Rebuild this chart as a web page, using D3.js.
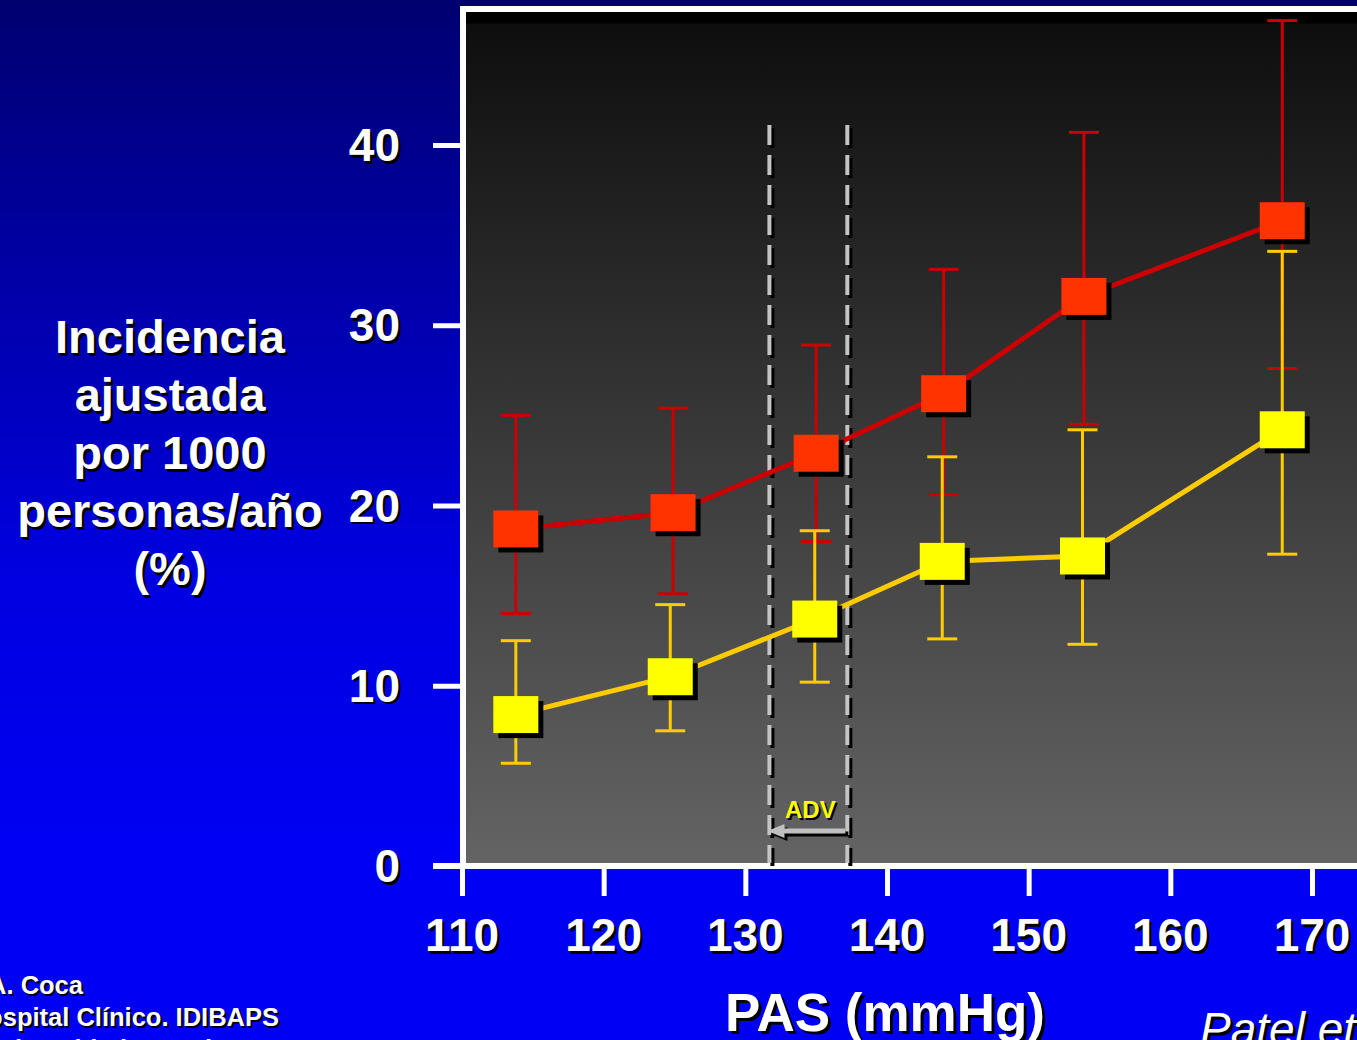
<!DOCTYPE html>
<html>
<head>
<meta charset="utf-8">
<script src="https://cdn.jsdelivr.net/npm/d3@7"></script>
<style>
  html, body { margin: 0; padding: 0; overflow: hidden; background: #0000c0; }
  svg { display: block; }
  text { font-family: "Liberation Sans", Arial, sans-serif; }
</style>
</head>
<body>
<svg id="chart" width="1357" height="1040"></svg>
<script>
// ---------- DATA ----------
const xTicks = [110, 120, 130, 140, 150, 160, 170];
const yTicks = [0, 10, 20, 30, 40];
const redX = [113.8, 124.9, 135.0, 144.0, 153.9, 167.9];
const redY = [18.7, 19.6, 22.9, 26.2, 31.6, 35.8];
const redHi = [25.0, 25.4, 28.9, 33.1, 40.7, 46.9];
const redLo = [14.0, 15.1, 18.0, 20.6, 24.5, 27.6];
const yelX = [113.8, 124.7, 134.9, 143.9, 153.8, 167.9];
const yelY = [8.4, 10.5, 13.7, 16.9, 17.2, 24.2];
const yelHi = [12.5, 14.5, 18.6, 22.7, 24.2, 34.1];
const yelLo = [5.7, 7.5, 10.2, 12.6, 12.3, 17.3];
const advRange = [131.7, 137.2];
const yLabelLines = ["Incidencia", "ajustada", "por 1000", "personas/año", "(%)"];
const xLabel = "PAS (mmHg)";
const advLabel = "ADV";
const footerLines = ["A. Coca", "Hospital Clínico. IDIBAPS", "Universidad Barcelona"];
const citation = "Patel et al";

// ---------- SETUP ----------
const svg = d3.select("#chart");
const W = 1357, H = 1040;
const x = d3.scaleLinear().domain([110, 170]).range([462, 1312]);
const y = d3.scaleLinear().domain([0, 40]).range([866, 145]);

const defs = svg.append("defs");
const bg = defs.append("linearGradient").attr("id", "bg").attr("x1", 0).attr("y1", 0).attr("x2", 0).attr("y2", 1);
bg.append("stop").attr("offset", 0).attr("stop-color", "#000070");
bg.append("stop").attr("offset", 0.55).attr("stop-color", "#0000e0");
bg.append("stop").attr("offset", 0.8).attr("stop-color", "#0000f2");
bg.append("stop").attr("offset", 1).attr("stop-color", "#0000f4");

const pg = defs.append("linearGradient").attr("id", "pg").attr("x1", 0).attr("y1", 0).attr("x2", 0).attr("y2", 1);
pg.append("stop").attr("offset", 0).attr("stop-color", "#000000");
pg.append("stop").attr("offset", 0.013).attr("stop-color", "#000000");
pg.append("stop").attr("offset", 0.014).attr("stop-color", "#0e0e0e");
pg.append("stop").attr("offset", 1).attr("stop-color", "#646464");

svg.append("rect").attr("width", W).attr("height", H).attr("fill", "url(#bg)");

// plot frame
svg.append("rect").attr("x", 460).attr("y", 6).attr("width", W - 460 + 10).attr("height", 866 - 6)
  .attr("fill", "#ffffff");
svg.append("rect").attr("x", 466).attr("y", 12).attr("width", W - 466 + 10).attr("height", 863 - 12)
  .attr("fill", "url(#pg)");

function shadowText(g, txt, tx, ty, opts) {
  const o = Object.assign({ size: 40, weight: "bold", anchor: "middle", fill: "#fff", dx: 2.5, dy: 2.5, style: "normal" }, opts || {});
  [[o.dx, o.dy, "#000"], [0, 0, o.fill]].forEach(([ox, oy, c]) => {
    g.append("text").attr("x", tx + ox).attr("y", ty + oy)
      .attr("text-anchor", o.anchor).attr("font-size", o.size).attr("font-weight", o.weight)
      .attr("font-style", o.style).attr("fill", c).text(txt);
  });
}

// ---------- AXES ----------
const axisG = svg.append("g");
// x axis line
axisG.append("line").attr("x1", 433).attr("x2", W).attr("y1", y(0)).attr("y2", y(0))
  .attr("stroke", "#fff").attr("stroke-width", 6);
// x ticks
const xAxis = d3.axisBottom(x).tickValues(xTicks).tickSize(30).tickFormat("");
const xg = svg.append("g").attr("transform", `translate(0,${y(0)})`).call(xAxis);
xg.select(".domain").remove();
xg.selectAll(".tick line").attr("stroke", "#fff").attr("stroke-width", 5);
xTicks.forEach(t => shadowText(svg, String(t), x(t), 951, { size: 46 }));

// y ticks
const yAxis = d3.axisLeft(y).tickValues(yTicks).tickSize(28).tickFormat("");
const yg = svg.append("g").attr("transform", `translate(461,0)`).call(yAxis);
yg.select(".domain").remove();
yg.selectAll(".tick line").attr("stroke", "#fff").attr("stroke-width", 5);
yTicks.forEach(t => shadowText(svg, String(t), 400, y(t) + 16, { size: 46, anchor: "end" }));

// ---------- ADV dashed lines ----------
advRange.forEach(v => {
  svg.append("line").attr("x1", x(v) + 3).attr("x2", x(v) + 3).attr("y1", 128).attr("y2", y(0))
    .attr("stroke", "#000").attr("stroke-width", 4).attr("stroke-dasharray", "20,10");
  svg.append("line").attr("x1", x(v)).attr("x2", x(v)).attr("y1", 125).attr("y2", y(0) - 3)
    .attr("stroke", "#c4c4c4").attr("stroke-width", 4).attr("stroke-dasharray", "20,10");
});
// arrow
const ax0 = x(advRange[1]) - 2, ax1 = x(advRange[0]) - 2, ay = 831;
[[3, 3, "#000"], [0, 0, "#c0c0c0"]].forEach(([ox, oy, c]) => {
  svg.append("line").attr("x1", ax0 + ox).attr("x2", ax1 + 14 + ox).attr("y1", ay + oy).attr("y2", ay + oy)
    .attr("stroke", c).attr("stroke-width", 5);
  svg.append("path").attr("d", `M${ax1 + ox},${ay + oy} L${ax1 + 17 + ox},${ay - 7 + oy} L${ax1 + 17 + ox},${ay + 7 + oy} Z`)
    .attr("fill", c);
});
shadowText(svg, advLabel, (x(advRange[0]) + x(advRange[1])) / 2 + 2, 818, { size: 24, fill: "#ffff00", dx: 2, dy: 2 });

// ---------- SERIES ----------
function drawSeries(xs, ys, lo, hi, lineColor, fill) {
  const pts = xs.map((d, i) => [x(d), y(ys[i])]);
  svg.append("path").attr("d", d3.line()(pts)).attr("fill", "none")
    .attr("stroke", lineColor).attr("stroke-width", 5);
  const cap = 15;
  xs.forEach((d, i) => {
    const cx = x(d);
    svg.append("line").attr("x1", cx).attr("x2", cx).attr("y1", y(hi[i])).attr("y2", y(lo[i]))
      .attr("stroke", lineColor).attr("stroke-width", 3);
    [hi[i], lo[i]].forEach(v => {
      svg.append("line").attr("x1", cx - cap).attr("x2", cx + cap).attr("y1", y(v)).attr("y2", y(v))
        .attr("stroke", lineColor).attr("stroke-width", 3);
    });
  });
  return () => {
    const mw = 45, mh = 37;
    pts.forEach(([px, py]) => {
      svg.append("rect").attr("x", px - mw / 2 + 5).attr("y", py - mh / 2 + 5).attr("width", mw).attr("height", mh).attr("fill", "#000");
      svg.append("rect").attr("x", px - mw / 2).attr("y", py - mh / 2).attr("width", mw).attr("height", mh).attr("fill", fill);
    });
  };
}
const redMarkers = drawSeries(redX, redY, redLo, redHi, "#cc0000", "#ff3300");
const yelMarkers = drawSeries(yelX, yelY, yelLo, yelHi, "#ffcc00", "#ffff00");
redMarkers();
yelMarkers();

// ---------- TEXT ----------
yLabelLines.forEach((t, i) => shadowText(svg, t, 170, 353 + i * 58, { size: 47 }));
shadowText(svg, xLabel, 885, 1031, { size: 53, dx: 3, dy: 3 });
shadowText(svg, footerLines[0], 83, 994, { size: 25.5, anchor: "end", dx: 2, dy: 2 });
shadowText(svg, footerLines[1], 279, 1026, { size: 25.5, anchor: "end", dx: 2, dy: 2 });
shadowText(svg, footerLines[2], -19, 1058, { size: 25.5, anchor: "start", dx: 2, dy: 2 });
shadowText(svg, citation, 1200, 1045, { size: 46, anchor: "start", weight: "normal", style: "italic", dx: 3, dy: 3 });
</script>
</body>
</html>
